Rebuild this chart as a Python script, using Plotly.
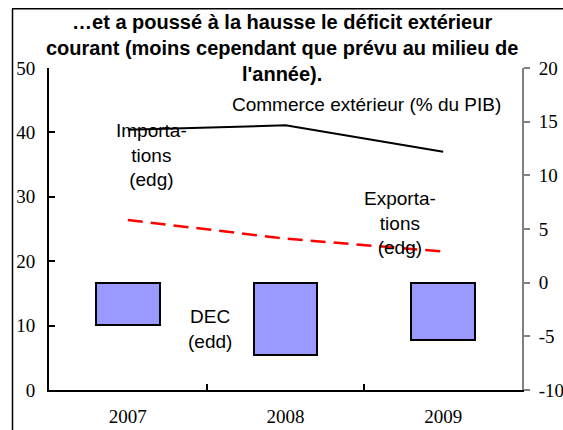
import plotly.graph_objects as go

years = ["2007", "2008", "2009"]
importations = [40.4, 41.1, 37.0]
exportations = [26.4, 23.5, 21.5]
dec = [-3.9, -6.7, -5.3]
right_tickvals = [-10, -5, 0, 5, 10, 15, 20]
right_ticktext = ["-10", "-5", "0", "5", "10", "15", "20"]

title_text = "…et a poussé à la hausse le déficit extérieur<br>courant (moins cependant que prévu au milieu de<br>l'année)."

fig = go.Figure()
fig.add_trace(go.Bar(x=years, y=dec, yaxis="y2", width=0.405,
                     marker=dict(color="#9999FF", line=dict(color="black", width=2)),
                     showlegend=False))
fig.add_trace(go.Scatter(x=years, y=importations, mode="lines",
                         line=dict(color="black", width=2), showlegend=False))
fig.add_trace(go.Scatter(x=years, y=exportations, mode="lines",
                         line=dict(color="#FF0000", width=2.5, dash="15px,8px"), showlegend=False))

tickfont = dict(family="Liberation Serif, Times New Roman, serif", size=19, color="black")
annfont = dict(family="Liberation Sans, Arial, sans-serif", size=19, color="black")

W, H = 563, 430
L, R, T, B = 49, 41, 68, 40
pw, ph = W - L - R, H - T - B

def px(xpage):
    return (xpage - L) / pw

def py(ypage):
    return (H - B - ypage) / ph

fig.update_layout(
    width=W, height=H,
    margin=dict(l=L, r=R, t=T, b=B, pad=0, autoexpand=False),
    paper_bgcolor="white", plot_bgcolor="white",
    xaxis=dict(type="category", tickson="boundaries", ticks="inside", ticklen=6,
               tickcolor="black", tickwidth=2, showline=True, linecolor="black",
               linewidth=2, showgrid=False, tickfont=tickfont, range=[-0.5, 2.5],
               ticklabelstandoff=8, automargin=False),
    yaxis=dict(range=[0, 50], dtick=10, ticks="inside", ticklen=6, tickwidth=2,
               tickcolor="black", showline=True, linecolor="black", linewidth=2,
               showgrid=False, zeroline=False, tickfont=tickfont, ticklabelstandoff=8,
               automargin=False),
    yaxis2=dict(range=[-10, 20], tickmode="array", tickvals=right_tickvals,
                ticktext=right_ticktext, overlaying="y", side="right",
                ticks="outside", ticklen=6, tickwidth=1.5, tickcolor="#808080",
                showline=True, linecolor="#808080", linewidth=2, showgrid=False,
                zeroline=False, tickfont=tickfont, ticklabelstandoff=5, automargin=False),
    bargap=0,
    annotations=[
        dict(text="<b>" + title_text + "</b>", xref="paper", yref="paper",
             x=px(282), y=py(9), yanchor="top", xanchor="center", showarrow=False,
             font=dict(family="Liberation Sans, Arial, sans-serif", size=20, color="black")),
        dict(text="Commerce extérieur (% du PIB)", xref="paper", yref="paper",
             x=px(366), y=py(104), xanchor="center", yanchor="middle",
             showarrow=False, font=annfont),
        dict(text="Importa-<br>tions<br>(edg)", xref="paper", yref="paper",
             x=px(151), y=py(155), xanchor="center", yanchor="middle",
             showarrow=False, font=annfont),
        dict(text="Exporta-<br>tions<br>(edg)", xref="paper", yref="paper",
             x=px(400), y=py(223), xanchor="center", yanchor="middle",
             showarrow=False, font=annfont),
        dict(text="DEC<br>(edd)", xref="paper", yref="paper",
             x=px(210), y=py(329), xanchor="center", yanchor="middle",
             showarrow=False, font=annfont),
    ],
    shapes=[
        dict(type="line", xref="paper", yref="paper", x0=px(12), x1=px(570), y0=py(8.8), y1=py(8.8),
             line=dict(color="black", width=1.5)),
        dict(type="line", xref="paper", yref="paper", x0=px(12.5), x1=px(12.5), y0=py(8.8), y1=py(440),
             line=dict(color="black", width=1.5)),
    ],
)

fig.write_html(
    "out.html",
    config={"displayModeBar": False},
    post_script="document.body.style.margin='0';document.body.style.overflow='hidden';",
)
